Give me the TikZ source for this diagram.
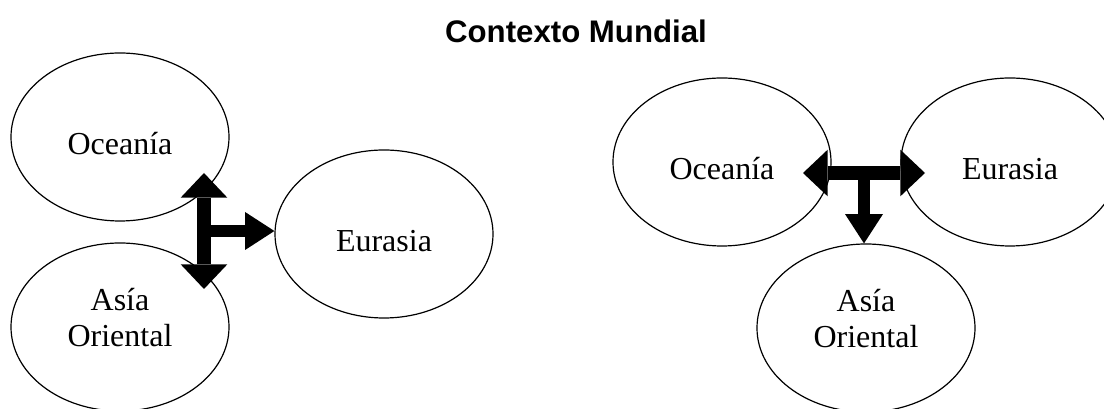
\documentclass[tikz,border=0pt]{standalone}
\usepackage{fontspec}
\setmainfont{Liberation Serif}
\newfontfamily\titlefont{Liberation Sans}
\usetikzlibrary{shapes.geometric,arrows.meta}

\begin{document}
\begin{tikzpicture}[x=0.75pt,y=-0.75pt,
        region/.style={draw, ellipse, line width=0.9pt, minimum width=163.5pt, minimum height=126pt, inner sep=0pt},
        every label/.style={align=center, font=\fontsize{24}{27}\selectfont},
        fat/.style={line width=10pt, {Triangle[length=18.5pt,width=35pt,line width=0pt]}-{Triangle[length=18.5pt,width=35pt,line width=0pt]}},
        thin/.style={line width=9.5pt, -{Triangle[length=22pt,width=28.5pt,line width=0pt]}}]
	\clip (0,0) rectangle (1104,409);

	\node (title) at (576,31) {\titlefont\bfseries\fontsize{23.4}{28}\selectfont Contexto Mundial};

	% left group
	\node[region, label={[yshift=-5pt]center:Oceanía}] (ocean1) at (120,137) {};
	\node[region, label={[yshift=7pt]center:Asía\\Oriental}] (asia1) at (120,327) {};
	\node[region, label={[yshift=-5pt]center:Eurasia}] (eur1) at (384,234) {};
	\coordinate (top1) at (204,173);
	\coordinate (bot1) at (204,289);
	\coordinate (mid1) at (204,231);
	\draw[fat] (top1) -- (bot1);
	\draw[thin] (mid1) -- (mid1 -| eur1.west);

	% right group
	\node[region, label={[yshift=-5pt]center:Oceanía}] (ocean2) at (722,162) {};
	\node[region, label={[yshift=-5pt]center:Eurasia}] (eur2) at (1010,162) {};
	\node[region, label={[yshift=7pt]center:Asía\\Oriental}] (asia2) at (866,328) {};
	\coordinate (left2) at (803,173);
	\coordinate (right2) at (925,173);
	\coordinate (mid2) at (864,173);
	\draw[fat] (left2) -- (right2);
	\draw[thin] (mid2) -- (mid2 |- asia2.north);

\end{tikzpicture}
\end{document}
